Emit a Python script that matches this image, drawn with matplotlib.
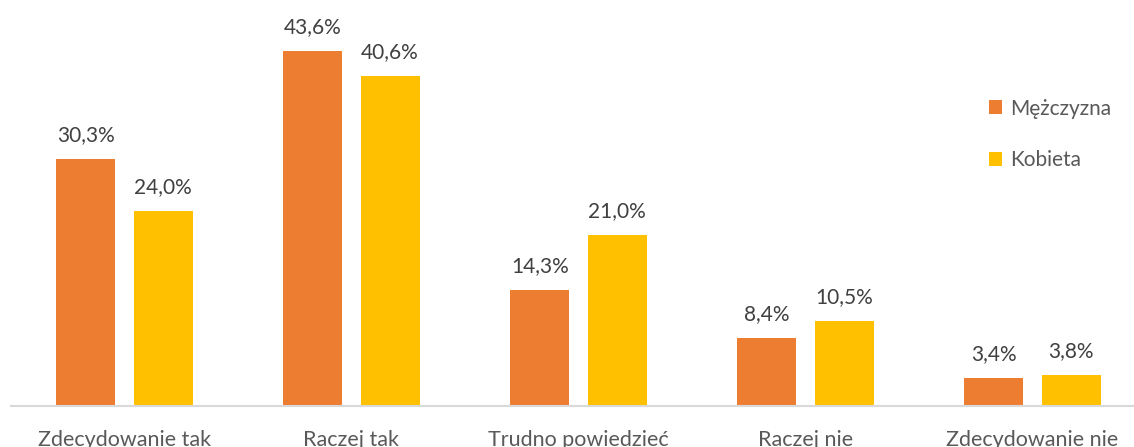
import matplotlib
matplotlib.use("Agg")
import matplotlib.pyplot as plt
import numpy as np

# Dane z wykresu
kategorie = ["Zdecydowanie tak", "Raczej tak", "Trudno powiedzieć", "Raczej nie", "Zdecydowanie nie"]
mezczyzna = [30.3, 43.6, 14.3, 8.4, 3.4]
kobieta = [24.0, 40.6, 21.0, 10.5, 3.8]
serie = ["Mężczyzna", "Kobieta"]

kolor_m = "#ED7D31"
kolor_k = "#FFC000"
kolor_tekst = "#404040"

plt.rcParams["font.family"] = ["Lato", "DejaVu Sans"]

fig = plt.figure(figsize=(11.34, 4.47), dpi=100)
# obszar wykresu wychodzi poza prawa krawedz (jak w oryginale)
ax = fig.add_axes([11 / 1134, 1 - 406 / 447, 1135 / 1134, 406 / 447])

x = np.arange(len(kategorie))
szer = 0.26
off = 0.17

b1 = ax.bar(x - off, mezczyzna, szer, color=kolor_m, label=serie[0])
b2 = ax.bar(x + off, kobieta, szer, color=kolor_k, label=serie[1])

for bars, vals in [(b1, mezczyzna), (b2, kobieta)]:
    for b, v in zip(bars, vals):
        ax.annotate(f"{v:.1f}%".replace(".", ","),
                    (b.get_x() + b.get_width() / 2, b.get_height()),
                    xytext=(0, 10), textcoords="offset points",
                    ha="center", va="bottom", fontsize=15, color=kolor_tekst)

ax.set_xlim(-0.5, len(kategorie) - 0.5)
ax.set_ylim(0, 49.9)
ax.set_xticks(x)
ax.set_xticklabels(kategorie, fontsize=15.5, color="#595959")
ax.tick_params(axis="x", length=0, pad=17)
ax.set_yticks([])
for s in ["top", "right", "left"]:
    ax.spines[s].set_visible(False)
ax.spines["bottom"].set_color("#D9D9D9")
ax.spines["bottom"].set_linewidth(1.5)

leg = fig.legend(loc="upper left", bbox_to_anchor=(970 / 1134, 1 - 80 / 447),
                 frameon=False, fontsize=15, handlelength=0.65, handleheight=0.65,
                 handletextpad=0.4, labelspacing=1.5)
for t in leg.get_texts():
    t.set_color("#595959")

fig.savefig("out.png", dpi=100)
